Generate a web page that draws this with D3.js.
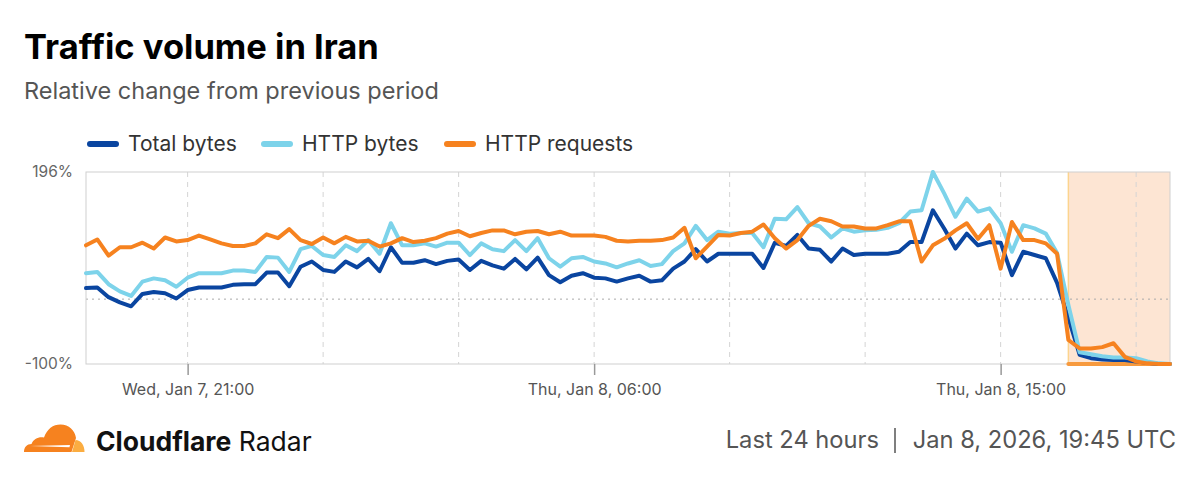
<!DOCTYPE html>
<html>
<head>
<meta charset="utf-8">
<script src="https://cdn.jsdelivr.net/npm/d3@7"></script>
<style>
  html, body { margin: 0; padding: 0; background: #fff; }
  svg { display: block; font-family: Inter, "Noto Sans", sans-serif; }
</style>
</head>
<body>
<svg id="chart" width="1200" height="477"></svg>
<script>
// 15-minute samples, Jan 7 18:45 UTC -> Jan 8 18:45 UTC
const START = "2026-01-07T18:45:00Z";
const STEP_MIN = 15;

const totalBytes = [
  17, 18, 3, -5, -11, 8, 11, 9, 1, 14, 18, 18, 18, 22, 23, 23, 41,
  41, 20, 50, 58, 45, 42, 58, 49, 62, 43, 80, 56, 56, 60, 54, 59,
  61, 45, 59, 52, 47, 62, 46, 64, 37, 26, 36, 40, 33, 32, 27, 32,
  36, 27, 29, 47, 58, 77, 58, 70, 70, 70, 70, 48, 87, 82, 99, 78,
  76, 58, 78, 68, 70, 70, 70, 73, 88, 88, 137, 109, 78, 101, 83, 88,
  87, 37, 73, 68, 63, 25, -29, -86, -91, -93, -94, -94, -96, -98, -100, -100
];
const httpBytes = [
  40, 42, 23, 12, 5, 27, 32, 29, 19, 33, 40, 40, 40, 44, 44, 42, 65,
  64, 42, 77, 82, 68, 65, 83, 74, 91, 70, 117, 83, 83, 86, 81, 87,
  87, 68, 86, 77, 74, 91, 74, 94, 63, 50, 63, 65, 58, 55, 49, 55,
  60, 51, 54, 74, 86, 113, 91, 104, 101, 102, 102, 80, 124, 123, 142, 117,
  112, 95, 109, 104, 106, 107, 110, 117, 135, 137, 196, 163, 127, 155, 135, 140,
  117, 73, 114, 109, 101, 71, -9, -82, -85, -88, -90, -90, -91, -96, -99, -100
];
const httpRequests = [
  83, 92, 67, 80, 80, 87, 78, 95, 89, 91, 98, 92, 86, 82, 82, 86, 100,
  94, 108, 91, 85, 95, 86, 96, 89, 90, 81, 86, 94, 88, 90, 94, 101,
  105, 97, 102, 106, 106, 100, 104, 105, 100, 104, 98, 98, 98, 96, 90, 89,
  90, 90, 91, 95, 110, 63, 81, 99, 98, 102, 104, 115, 94, 78, 91, 113,
  124, 120, 112, 112, 109, 109, 114, 120, 120, 58, 83, 93, 106, 117, 93, 114,
  47, 119, 91, 91, 86, 70, -63, -76, -76, -74, -68, -89, -96, -99, -100, -100
];

const seriesNames = ["Total bytes", "HTTP bytes", "HTTP requests"];
const seriesColors = ["#0a45a0", "#7dd3ea", "#f6821f"];
const yTicks = [-100, 196];
const xTickTimes = ["2026-01-07T21:00:00Z", "2026-01-08T06:00:00Z", "2026-01-08T15:00:00Z"];
const outageStart = "2026-01-08T16:30:00Z";

const start = new Date(START);
const times = totalBytes.map((_, i) => d3.utcMinute.offset(start, i * STEP_MIN));
const series = [totalBytes, httpBytes, httpRequests];

const svg = d3.select("#chart");
const plot = { left: 86, right: 1170, top: 172, bottom: 364 };

const x = d3.scaleUtc()
  .domain([times[0], times[times.length - 1]])
  .range([plot.left, plot.right]);
const y = d3.scaleLinear()
  .domain([yTicks[0], yTicks[1]])
  .range([plot.bottom, plot.top]);

// title block
svg.append("text")
  .attr("x", 24).attr("y", 59)
  .attr("font-size", 34.5).attr("font-weight", 700)
  .attr("fill", "#000")
  .text("Traffic volume in Iran");
svg.append("text")
  .attr("x", 24).attr("y", 99)
  .attr("font-size", 23.5)
  .attr("fill", "#555")
  .text("Relative change from previous period");

// legend
const legendX = [88, 262, 445];
const legend = svg.append("g");
seriesNames.forEach((name, i) => {
  const g = legend.append("g").attr("transform", `translate(${legendX[i]},144)`);
  g.append("line")
    .attr("x1", 2).attr("x2", 28)
    .attr("stroke", seriesColors[i])
    .attr("stroke-width", 6)
    .attr("stroke-linecap", "round");
  g.append("text")
    .attr("x", 40).attr("dy", "0.35em")
    .attr("font-size", 21)
    .attr("fill", "#333")
    .text(name);
});

// outage shading
const xo = x(new Date(outageStart));
svg.append("rect")
  .attr("x", xo).attr("y", plot.top)
  .attr("width", plot.right - xo).attr("height", plot.bottom - plot.top)
  .attr("fill", "#fde5d3");
svg.append("line")
  .attr("x1", xo).attr("x2", xo)
  .attr("y1", plot.top).attr("y2", plot.bottom)
  .attr("stroke", "#fcd48e").attr("stroke-width", 1.5);

// vertical grid every 3 hours
const gridTimes = d3.utcHour.every(3).range(times[0], times[times.length - 1]).filter(t => x(t) > plot.left + 1);
svg.append("g")
  .selectAll("line")
  .data(gridTimes)
  .join("line")
  .attr("x1", d => x(d)).attr("x2", d => x(d))
  .attr("y1", plot.top).attr("y2", plot.bottom)
  .attr("stroke", "#d4d4d4")
  .attr("stroke-dasharray", "5,5");

// zero line
svg.append("line")
  .attr("x1", plot.left).attr("x2", plot.right)
  .attr("y1", y(0)).attr("y2", y(0))
  .attr("stroke", "#aaa")
  .attr("stroke-dasharray", "2,4");

// frame
svg.append("rect")
  .attr("x", plot.left).attr("y", plot.top)
  .attr("width", plot.right - plot.left).attr("height", plot.bottom - plot.top)
  .attr("fill", "none")
  .attr("stroke", "#cfcfcf");

// axes
const fmt = d3.utcFormat("%a, %b %-d, %H:%M");
const xAxis = svg.append("g")
  .attr("transform", `translate(0,${plot.bottom})`)
  .call(d3.axisBottom(x)
    .tickValues(xTickTimes.map(t => new Date(t)))
    .tickFormat(fmt)
    .tickSize(11)
    .tickPadding(9));
xAxis.select(".domain").remove();
xAxis.selectAll(".tick line").attr("stroke", "#999").attr("stroke-width", 1.5);
xAxis.selectAll(".tick text")
  .attr("font-family", "Inter, sans-serif")
  .attr("font-size", 16).attr("fill", "#555");

const yAxis = svg.append("g")
  .attr("transform", `translate(${plot.left},0)`)
  .call(d3.axisLeft(y)
    .tickValues(yTicks)
    .tickFormat(d => d + "%")
    .tickSize(0)
    .tickPadding(13));
yAxis.select(".domain").remove();
yAxis.selectAll(".tick text")
  .attr("font-family", "Inter, sans-serif")
  .attr("font-size", 15.5).attr("fill", "#666");

// outage marker bar on the baseline
svg.append("line")
  .attr("x1", xo).attr("x2", plot.right)
  .attr("y1", plot.bottom).attr("y2", plot.bottom)
  .attr("stroke", "#f79a3e").attr("stroke-width", 4)
  .attr("stroke-linecap", "round");

// series lines
const line = d3.line()
  .x((d, i) => x(times[i]))
  .y(d => y(d));
svg.append("g")
  .selectAll("path")
  .data(series)
  .join("path")
  .attr("d", d => line(d))
  .attr("fill", "none")
  .attr("stroke", (d, i) => seriesColors[i])
  .attr("stroke-width", 4)
  .attr("stroke-linejoin", "round")
  .attr("stroke-linecap", "round");

// footer: logo
const logo = svg.append("g");
logo.append("path")
  .attr("d", "M24,452 C24,447 27,444 31.5,444 C33.5,439 38.5,436.5 44,437.5 C47,429 53,424.5 60.5,424.5 C69,424.5 75,430.5 76,438 L71.5,452 Z")
  .attr("fill", "#f6821f");
logo.append("path")
  .attr("d", "M72,452 L75.5,440 C81,440 84.5,445 84.5,452 Z")
  .attr("fill", "#fbad41");
logo.append("path")
  .attr("d", "M30,446 L70,445 L69.5,447.2 Z")
  .attr("fill", "#fff");

svg.append("text")
  .attr("x", 96).attr("y", 451)
  .attr("font-size", 26.5)
  .attr("fill", "#111")
  .call(t => {
    t.append("tspan").attr("font-weight", 700).text("Cloudflare");
    t.append("tspan").text(" Radar");
  });

// footer: period and timestamp
svg.append("text")
  .attr("x", 1176).attr("y", 448)
  .attr("text-anchor", "end")
  .attr("font-size", 23.7).attr("fill", "#555")
  .text("Jan 8, 2026, 19:45 UTC");
svg.append("line")
  .attr("x1", 895).attr("x2", 895)
  .attr("y1", 428).attr("y2", 453)
  .attr("stroke", "#555").attr("stroke-width", 1.5);
svg.append("text")
  .attr("x", 879).attr("y", 448)
  .attr("text-anchor", "end")
  .attr("font-size", 23.7).attr("fill", "#555")
  .text("Last 24 hours");
</script>
</body>
</html>
